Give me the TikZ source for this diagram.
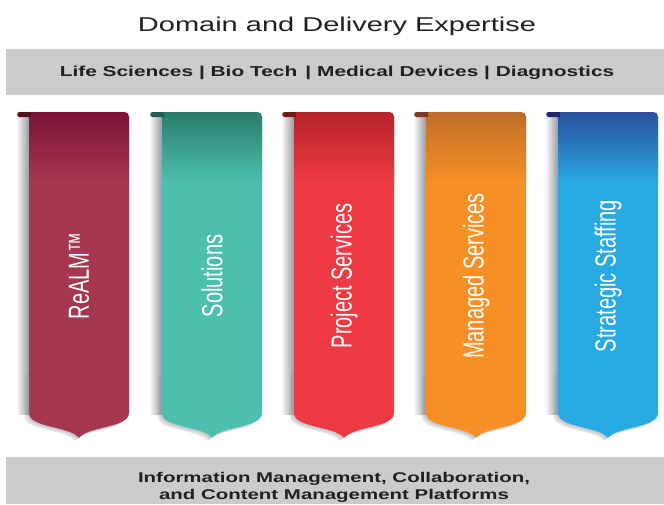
\documentclass[tikz,border=0pt]{standalone}
\usepackage{fontspec}
\setmainfont{Liberation Sans}
\newfontfamily\widefont[FakeStretch=1.45]{Liberation Sans}
\newfontfamily\tallfont[FakeStretch=0.69]{Liberation Sans}
\usepackage{tikz}
\definecolor{ink}{HTML}{231F20}
\definecolor{band}{HTML}{CBCBCB}
\definecolor{shadowgray}{HTML}{999BA1}
\definecolor{realm}{HTML}{A5374F}
\definecolor{realmtop}{HTML}{7C1336}
\definecolor{realmcurl}{HTML}{5A0E1C}
\definecolor{solutions}{HTML}{4CC0AD}
\definecolor{solutionstop}{HTML}{2B7B6B}
\definecolor{solutionscurl}{HTML}{1E5E50}
\definecolor{project}{HTML}{EE3A43}
\definecolor{projecttop}{HTML}{B52329}
\definecolor{projectcurl}{HTML}{7A1A18}
\definecolor{managed}{HTML}{F68F25}
\definecolor{managedtop}{HTML}{BE6E2A}
\definecolor{managedcurl}{HTML}{7E3A1E}
\definecolor{staffing}{HTML}{27A9E1}
\definecolor{staffingtop}{HTML}{2B4F9E}
\definecolor{staffingcurl}{HTML}{25246A}
\tikzset{
  bar/.style={fill=band},
  headtext/.style={
    text=ink,
    font=\widefont\fontsize{20}{24}\selectfont,
    anchor=base,
    inner sep=0pt
  },
  bandtext/.style={
    text=ink,
    font=\widefont\bfseries\fontsize{14.4}{17}\selectfont,
    inner sep=0pt
  },
  ribbontext/.style={
    text=white,
    font=\tallfont\fontsize{29}{30}\selectfont,
    rotate=90,
    inner sep=0pt
  },
  pics/ribbon/.style n args={4}{code={
    \shade[left color=white, right color=shadowgray] (-63,5) rectangle (-50,302);
    \foreach \d in {1.5,3,4.5}
      \fill[shadowgray, opacity=0.22, shift={(-\d,0.7*\d)}]
        (-50,260) -- (-50,301) .. controls (-50,316) and (-9,314) .. (0,326)
        .. controls (9,314) and (50,316) .. (50,301) -- (50,260) -- cycle;
    \begin{scope}
      \clip (-50,0) -- (45,0) .. controls (48,0) and (50,2) .. (50,5) -- (50,301)
        .. controls (50,316) and (9,314) .. (0,326)
        .. controls (-9,314) and (-50,316) .. (-50,301) -- cycle;
      \fill[#2] (-60,-5) rectangle (60,330);
      \shade[top color=#1, bottom color=#2] (-60,0) rectangle (60,70);
    \end{scope}
    \fill[#3] (-48,0) -- (-59.5,0) .. controls (-62.5,0) and (-62.5,5) .. (-59.5,5)
      -- (-48,5) -- cycle;
    \node[ribbontext] (-text) at (0,164) {#4};
  }}
}

\begin{document}
\begin{tikzpicture}[x=1pt, y=-1pt]
  \useasboundingbox (0,0) rectangle (664,504);

  \node[headtext] (heading) at (337,31) {Domain and Delivery Expertise};

  \fill[bar] (6,49) rectangle (664,95);
  \node[bandtext, anchor=base] (domains) at (337,76)
    {Life Sciences | Bio Tech \,| Medical Devices | Diagnostics};

  \pic (realm)     at (79,112)  {ribbon={realmtop}{realm}{realmcurl}{ReALM™}};
  \pic (solutions) at (212,112) {ribbon={solutionstop}{solutions}{solutionscurl}{Solutions}};
  \pic (project)   at (344,112) {ribbon={projecttop}{project}{projectcurl}{Project Services}};
  \pic (managed)   at (476,112) {ribbon={managedtop}{managed}{managedcurl}{Managed Services}};
  \pic (staffing)  at (608,112) {ribbon={staffingtop}{staffing}{staffingcurl}{Strategic Staffing}};

  \fill[bar] (6,457) rectangle (664,504);
  \node[bandtext, align=center, font=\widefont\bfseries\fontsize{14.1}{17}\selectfont]
    (platforms) at (334,487)
    {Information Management, Collaboration,\\and Content Management Platforms};
\end{tikzpicture}
\end{document}
